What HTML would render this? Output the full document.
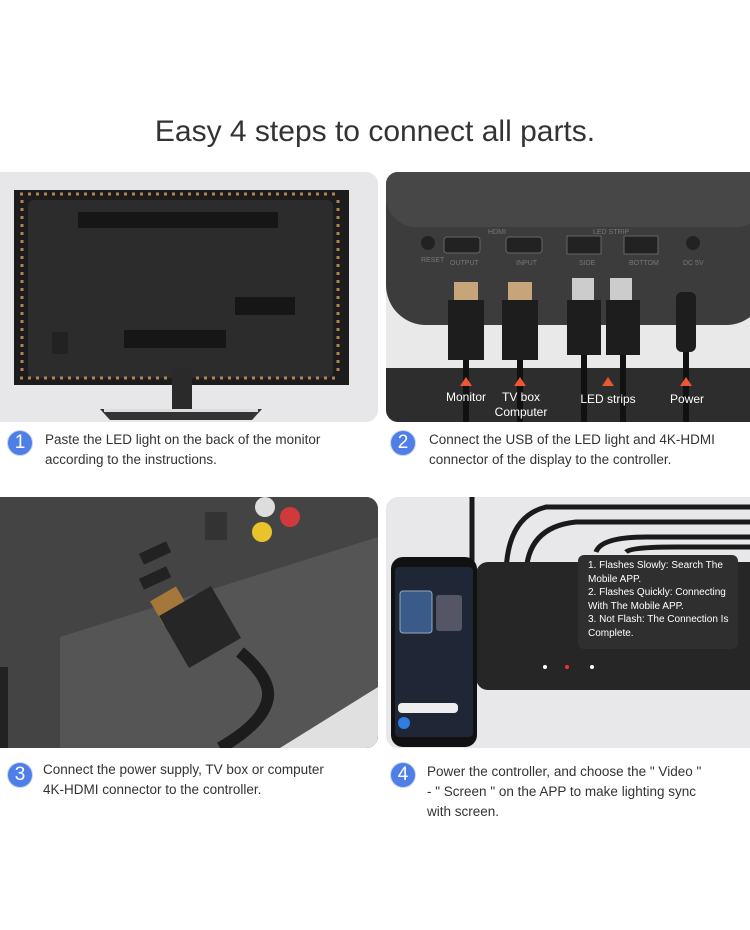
<!DOCTYPE html>
<html><head><style>
body{margin:0;width:750px;height:930px;background:#fff;position:relative;overflow:hidden;font-family:"Liberation Sans",sans-serif}
.a{position:absolute}
.t{position:absolute;font-size:13.5px;color:#333;line-height:20px}
.c{position:absolute;width:24px;height:24px;border-radius:50%;background:#4f7fe6;color:#fff;font-size:19px;text-align:center;line-height:24px;border:1px solid #c8d6f5}
.lb{position:absolute;color:#fff;font-size:12px;text-align:center;line-height:15px}
</style></head><body>
<div class="a" style="top:115px;width:750px;text-align:center;font-size:30px;color:#333">Easy 4 steps to connect all parts.</div>

<!-- panel1 -->
<div class="a" style="left:0;top:172px;width:378px;height:250px;background:#e7e7e9;border-radius:0 12px 12px 0"></div>
<svg class="a" style="left:0;top:172px" width="378" height="250">
<rect x="14" y="18" width="335" height="195" fill="#1c1c1c"/>
<rect x="28" y="28" width="305" height="178" fill="#2c2c2c" rx="6"/>
<rect x="78" y="40" width="200" height="16" fill="#161616"/>
<rect x="235" y="125" width="60" height="18" fill="#161616"/>
<rect x="124" y="158" width="102" height="18" fill="#161616"/>
<rect x="52" y="160" width="16" height="22" fill="#222"/>
<g fill="#c98b4a" opacity=".8">
<line x1="20" y1="22" x2="340" y2="22" stroke="#d0a060" stroke-width="3" stroke-dasharray="3 5"/>
<line x1="20" y1="206" x2="340" y2="206" stroke="#d0a060" stroke-width="3" stroke-dasharray="3 5"/>
<line x1="22" y1="28" x2="22" y2="200" stroke="#d0a060" stroke-width="3" stroke-dasharray="3 5"/>
<line x1="338" y1="28" x2="338" y2="200" stroke="#d0a060" stroke-width="3" stroke-dasharray="3 5"/>
</g>
<rect x="172" y="195" width="20" height="45" fill="#2a2a2a"/>
<polygon points="100,237 262,237 252,248 110,248" fill="#333"/>
<rect x="104" y="237" width="154" height="3" fill="#ddd"/>
</svg>

<!-- panel2 -->
<div class="a" style="left:386px;top:172px;width:364px;height:250px;background:#e9e9ea;border-radius:12px 0 0 12px;overflow:hidden">
<div class="a" style="left:0;top:0;width:380px;height:153px;background:#3c3c3c;border-radius:0 0 40px 40px"></div>
<div class="a" style="left:0;top:0;width:380px;height:55px;background:#474747;border-radius:0 0 30px 30px"></div>
<div class="a" style="left:0;top:196px;width:364px;height:54px;background:#2d2d2d"></div>
<svg class="a" style="left:0;top:0" width="364" height="250">
<g fill="#222" stroke="#666"><rect x="58" y="65" width="36" height="16" rx="3"/><rect x="120" y="65" width="36" height="16" rx="3"/><rect x="181" y="64" width="34" height="18"/><rect x="238" y="64" width="34" height="18"/></g>
<circle cx="42" cy="71" r="7" fill="#222"/><circle cx="307" cy="71" r="7" fill="#222"/>
<g fill="#777" font-size="7" font-family="Liberation Sans"><text x="35" y="90">RESET</text><text x="64" y="93">OUTPUT</text><text x="130" y="93">INPUT</text><text x="193" y="93">SIDE</text><text x="243" y="93">BOTTOM</text><text x="297" y="93">DC 5V</text><text x="102" y="62">HDMI</text><text x="207" y="62">LED STRIP</text></g>
<g fill="#c7a57a"><rect x="68" y="110" width="24" height="18"/><rect x="122" y="110" width="24" height="18"/></g>
<g fill="#ccc"><rect x="186" y="106" width="22" height="22"/><rect x="224" y="106" width="22" height="22"/></g>
<g fill="#1d1d1d"><rect x="62" y="128" width="36" height="60"/><rect x="116" y="128" width="36" height="60"/><rect x="181" y="128" width="34" height="55"/><rect x="220" y="128" width="34" height="55"/><rect x="290" y="120" width="20" height="60" rx="6"/></g>
<g stroke="#111" stroke-width="6"><line x1="80" y1="188" x2="80" y2="250"/><line x1="134" y1="188" x2="134" y2="250"/><line x1="198" y1="183" x2="198" y2="250"/><line x1="237" y1="183" x2="237" y2="250"/><line x1="300" y1="180" x2="300" y2="250"/></g>
<g fill="#ee5533"><polygon points="80,205 86,214 74,214"/><polygon points="134,205 140,214 128,214"/><polygon points="222,205 228,214 216,214"/><polygon points="300,205 306,214 294,214"/></g>
</svg>
<div class="lb" style="left:52px;top:218px;width:56px">Monitor</div>
<div class="lb" style="left:100px;top:218px;width:70px">TV box<br>Computer</div>
<div class="lb" style="left:190px;top:220px;width:64px">LED strips</div>
<div class="lb" style="left:276px;top:220px;width:50px">Power</div>
</div>

<div class="c" style="left:7px;top:430px">1</div>
<div class="t" style="left:45px;top:430px">Paste the LED light on the back of the monitor<br>according to the instructions.</div>
<div class="c" style="left:390px;top:430px">2</div>
<div class="t" style="left:429px;top:430px">Connect the USB of the LED light and 4K-HDMI<br>connector of the display to the controller.</div>

<!-- panel3 -->
<div class="a" style="left:0;top:497px;width:378px;height:251px;background:#4e4e4e;border-radius:0 12px 12px 0;overflow:hidden">
<svg class="a" width="378" height="251">
<polygon points="0,0 378,0 378,60 60,200 60,251 0,251" fill="#444"/>
<polygon points="60,140 378,40 378,251 60,251" fill="#555"/>
<polygon points="280,251 378,190 378,251" fill="#e0e0e0"/>
<rect x="0" y="170" width="8" height="81" fill="#222"/>
<rect x="140" y="50" width="30" height="12" fill="#222" transform="rotate(-25 155 56)"/>
<rect x="140" y="75" width="30" height="12" fill="#222" transform="rotate(-25 155 81)"/>
<rect x="205" y="15" width="22" height="28" fill="#333"/>
<circle cx="265" cy="10" r="10" fill="#ddd"/><circle cx="262" cy="35" r="10" fill="#e8c42a"/><circle cx="290" cy="20" r="10" fill="#d03a3a"/>
<rect x="155" y="95" width="30" height="28" fill="#a4773a" transform="rotate(-30 170 109)"/>
<rect x="170" y="100" width="60" height="60" fill="#262626" transform="rotate(-30 200 130)"/>
<path d="M240 155 Q270 180 268 200 Q265 225 220 251" stroke="#1c1c1c" stroke-width="12" fill="none"/>
</svg></div>

<!-- panel4 -->
<div class="a" style="left:386px;top:497px;width:364px;height:251px;background:#e8e8ea;border-radius:12px 0 0 12px;overflow:hidden">
<svg class="a" width="364" height="251">
<path d="M86 70 V0 M120 80 Q120 20 160 10 H364 M140 80 Q140 30 190 25 H364 M210 55 Q215 40 260 40 H364 M240 55 Q245 50 290 50 H364" stroke="#1a1a1a" stroke-width="5" fill="none"/>
<rect x="90" y="65" width="290" height="128" rx="12" fill="#262626"/>
<circle cx="159" cy="170" r="2" fill="#fff"/><circle cx="181" cy="170" r="2" fill="#e33"/><circle cx="206" cy="170" r="2" fill="#fff"/>
<rect x="5" y="60" width="86" height="190" rx="12" fill="#111"/>
<rect x="9" y="70" width="78" height="170" rx="4" fill="#1f2737"/>
<rect x="14" y="94" width="32" height="42" rx="3" fill="#3a5a8a" stroke="#9ab" />
<rect x="50" y="98" width="26" height="36" rx="3" fill="#556"/>
<rect x="12" y="206" width="60" height="10" rx="4" fill="#eee"/>
<circle cx="18" cy="226" r="6" fill="#2e7de0"/>
</svg>
<div class="a" style="left:192px;top:58px;width:160px;height:94px;background:#2f2f2f;border-radius:6px;color:#fff;font-size:10px;line-height:13.5px;padding:4px 4px 0 10px;box-sizing:border-box">1. Flashes Slowly: Search The Mobile APP.<br>2. Flashes Quickly: Connecting With The Mobile APP.<br>3. Not Flash: The Connection Is Complete.</div>
</div>

<div class="c" style="left:7px;top:762px">3</div>
<div class="t" style="left:43px;top:760px">Connect the power supply, TV box or computer<br>4K-HDMI connector to the controller.</div>
<div class="c" style="left:390px;top:762px">4</div>
<div class="t" style="left:427px;top:762px">Power the controller, and choose the " Video "<br>- " Screen " on the APP to make lighting sync<br>with screen.</div>
</body></html>
